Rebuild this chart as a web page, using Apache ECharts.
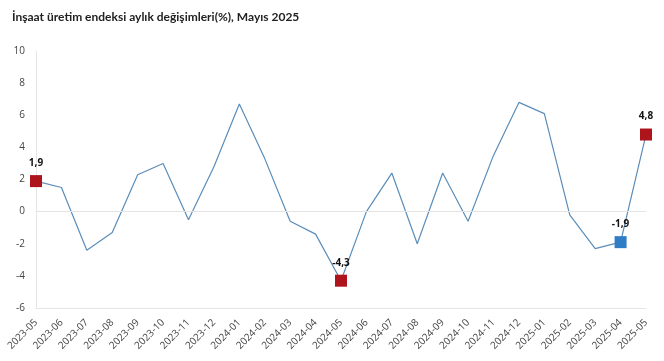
<!DOCTYPE html>
<html>
<head>
<meta charset="utf-8">
<script src="https://cdn.jsdelivr.net/npm/echarts@6/dist/echarts.min.js"></script>
<style>html,body{margin:0;padding:0;background:#fff}#c{width:664px;height:361px}</style>
</head>
<body>
<div id="c"></div>
<script>
var categories = ['2023-05','2023-06','2023-07','2023-08','2023-09','2023-10','2023-11','2023-12','2024-01','2024-02','2024-03','2024-04','2024-05','2024-06','2024-07','2024-08','2024-09','2024-10','2024-11','2024-12','2025-01','2025-02','2025-03','2025-04','2025-05'];
var values = [1.9,1.5,-2.4,-1.3,2.3,3.0,-0.5,2.8,6.7,3.3,-0.6,-1.4,-4.3,0.0,2.4,-2.0,2.4,-0.6,3.5,6.8,6.1,-0.2,-2.3,-1.9,4.8];
var redIdx = [0,12,24];
var blueIdx = [23];
var yTicks = {min:-6, max:10, interval:2};

var data = values.map(function(v,i){
  var isRed = redIdx.indexOf(i) >= 0, isBlue = blueIdx.indexOf(i) >= 0;
  if (!isRed && !isBlue) return {value:v};
  return {
    value:v, symbol:'rect', symbolSize:12,
    itemStyle:{color: isRed ? '#ae141c' : '#2f7ec5'},
    label:{show:true}
  };
});

var chart = echarts.init(document.getElementById('c'));
chart.setOption({
  animation:false,
  title:{text:'İnşaat üretim endeksi aylık değişimleri(%), Mayıs 2025', left:7, top:6,
    textStyle:{fontFamily:'Lato', fontSize:12, fontWeight:'bold', color:'#222'}},
  grid:{left:36, right:18, top:51, bottom:53},
  xAxis:{type:'category', data:categories, boundaryGap:false,
    axisLine:{onZero:false, lineStyle:{color:'#e6e6e6'}},
    axisTick:{show:false},
    axisLabel:{rotate:45, fontSize:10, color:'#444', fontFamily:'Open Sans', interval:0, margin:13},
    splitLine:{show:false}},
  yAxis:{type:'value', min:yTicks.min, max:yTicks.max, interval:yTicks.interval,
    axisLine:{show:true, lineStyle:{color:'#e6e6e6'}},
    axisTick:{show:false},
    axisLabel:{fontSize:10, color:'#444', fontFamily:'Open Sans', margin:11},
    splitLine:{show:false}},
  series:[{
    type:'line', data:data, symbol:'none', showSymbol:true,
    lineStyle:{color:'#5a8db9', width:1.2},
    itemStyle:{color:'#5a8db9'},
    label:{show:false, position:'top', distance:7, fontSize:10, fontWeight:'bold', color:'#111', fontFamily:'Open Sans',
      formatter:function(p){return String(p.value).replace('.',',');}},
    markLine:{silent:true, symbol:'none', label:{show:false},
      lineStyle:{color:'#e3e3e3', type:'solid', width:1},
      data:[{yAxis:0}]}
  }]
});
</script>
</body>
</html>
